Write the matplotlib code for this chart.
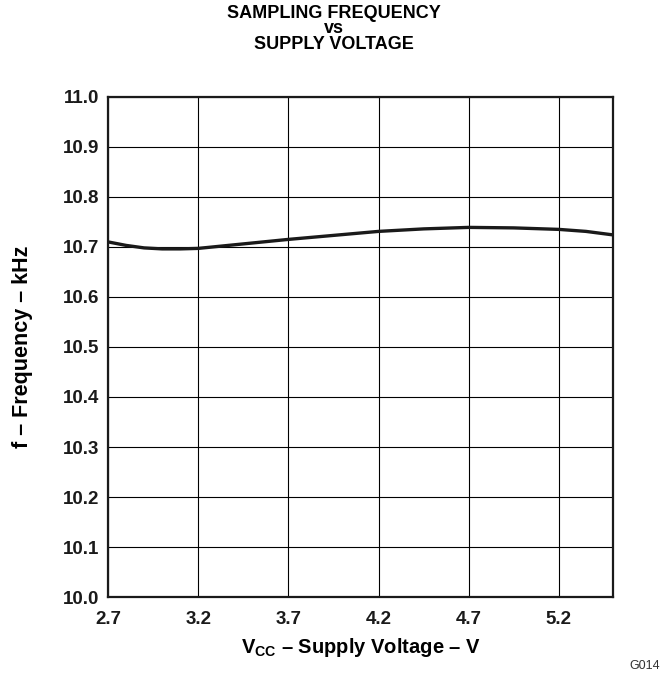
import matplotlib
matplotlib.use("Agg")
import matplotlib.pyplot as plt

plt.rcParams['font.family'] = ['Liberation Sans', 'DejaVu Sans']
plt.rcParams['mathtext.fontset'] = 'custom'
plt.rcParams['mathtext.rm'] = 'Liberation Sans'
plt.rcParams['mathtext.bf'] = 'Liberation Sans:bold'

# supply voltage (V) and sampling frequency (kHz)
vcc = [2.7, 2.8, 2.9, 3.0, 3.1, 3.2, 3.45, 3.7, 3.95, 4.2, 4.45, 4.7, 4.95, 5.2, 5.35, 5.5]
freq = [10.710, 10.703, 10.698, 10.696, 10.696, 10.697, 10.706, 10.715, 10.723,
        10.731, 10.736, 10.739, 10.738, 10.735, 10.731, 10.724]

x_ticks = [2.7, 3.2, 3.7, 4.2, 4.7, 5.2]
y_ticks = [10.0, 10.1, 10.2, 10.3, 10.4, 10.5, 10.6, 10.7, 10.8, 10.9, 11.0]

fig = plt.figure(figsize=(6.67, 6.77), dpi=100)
ax = fig.add_axes([0.162, 0.118, 0.757, 0.739])

ax.plot(vcc, freq, color='#1a1a1a', lw=2.4, solid_capstyle='butt')

ax.set_xlim(2.7, 5.5)
ax.set_ylim(10.0, 11.0)
ax.set_xticks(x_ticks)
ax.set_yticks(y_ticks)
ax.set_xticklabels(['%.1f' % v for v in x_ticks], fontsize=13.5, fontweight='bold')
ax.set_yticklabels(['%.1f' % v for v in y_ticks], fontsize=13.5, fontweight='bold')
ax.tick_params(axis='y', length=0, pad=6, colors='#1a1a1a')
ax.tick_params(axis='x', length=0, pad=10, colors='#1a1a1a')
ax.grid(True, color='black', lw=0.8)
ax.set_axisbelow(True)
for s in ax.spines.values():
    s.set_linewidth(1.6)
    s.set_color('#1a1a1a')

ax.set_xlabel(r'$\mathbf{V_{CC}}$ – Supply Voltage – V', fontsize=14.5, fontweight='bold', labelpad=6)
ax.set_ylabel('f – Frequency – kHz', fontsize=15.5, fontweight='bold', labelpad=22)

fig.text(0.5, 0.993, 'SAMPLING FREQUENCY\nvs\nSUPPLY VOLTAGE', ha='center', va='top',
         fontsize=13, fontweight='bold', linespacing=0.88)
fig.text(0.99, 0.008, 'G014', ha='right', va='bottom', fontsize=9, color='#333333')

fig.savefig('out.png', dpi=100)
